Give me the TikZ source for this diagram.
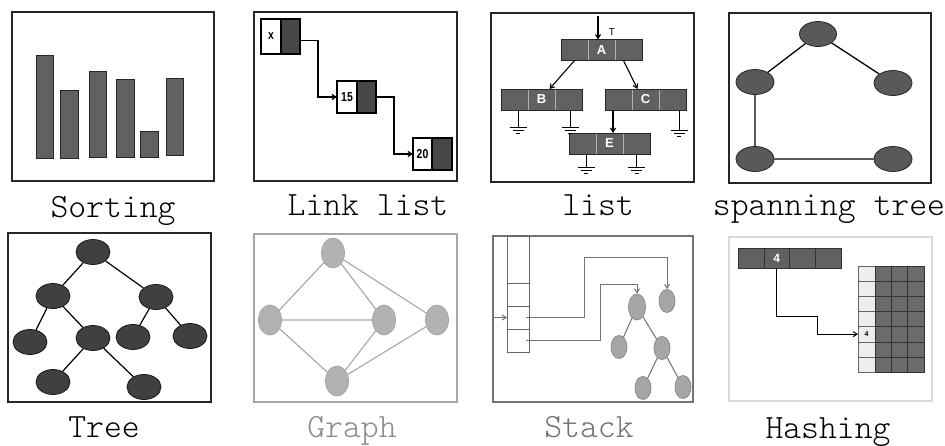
\documentclass[tikz,border=0pt]{standalone}
\usepackage{fontspec}
\setsansfont{Liberation Sans}
\newfontfamily\capfont{lmmonolt10-regular.otf}
\newfontfamily\condfont[FakeStretch=0.8]{Liberation Sans}
\usetikzlibrary{shapes.geometric,arrows.meta}
\begin{document}
\begin{tikzpicture}[x=1pt,y=-1pt,
  frame/.style={draw=black!85, line width=1.1pt},
  captext/.style={font=\fontsize{34}{40}\selectfont\capfont, anchor=base, inner sep=0pt},
  bar/.style={draw=black!85, fill=black!62, line width=0.9pt, anchor=south west, inner sep=0pt, outer sep=0pt},
  arr/.style={-{Straight Barb[length=4pt,width=5pt]}},
  lwhite/.style={draw=black, fill=white, line width=1.2pt, inner sep=0pt, outer sep=0pt, font=\condfont\bfseries\fontsize{13}{13}\selectfont},
  ldark/.style={draw=black, fill=black!72, line width=1.2pt, inner sep=0pt, outer sep=0pt},
  lcell/.style={draw=black!30, fill=black!62, minimum width=27pt, minimum height=21pt, inner sep=0pt, outer sep=0pt, text=white, font=\sffamily\bfseries\fontsize{13}{13}\selectfont},
  dell/.style={ellipse, draw=black!85, fill=black!65, line width=0.8pt, inner sep=0pt},
  tell/.style={ellipse, draw=black!90, fill=black!75, line width=0.8pt, inner sep=0pt, minimum width=34pt, minimum height=25pt},
  gell/.style={ellipse, draw=black!35, fill=black!30, line width=0.8pt, inner sep=0pt, minimum width=23pt, minimum height=30pt},
  sell/.style={ellipse, draw=black!45, fill=black!35, line width=0.8pt, inner sep=0pt, minimum width=16pt, minimum height=23pt},
  scell/.style={draw=black!60, line width=0.8pt, minimum width=22pt, minimum height=23pt, inner sep=0pt, outer sep=0pt},
  hcell/.style={draw=black!80, fill=black!62, minimum width=25.75pt, minimum height=20pt, inner sep=0pt, outer sep=0pt, text=white, font=\sffamily\bfseries\fontsize{12}{12}\selectfont},
  hcol/.style={draw=black!60, fill=black!7, minimum width=17pt, minimum height=15.14pt, inner sep=0pt, outer sep=0pt},
  hdark/.style={draw=black!80, fill=black!58, minimum width=16.33pt, minimum height=15.14pt, inner sep=0pt, outer sep=0pt},
  gnd/.pic={\draw[line width=0.8pt] (-8.5,0)--(8.5,0) (-5.5,3)--(5.5,3) (-2,6)--(2,6);}
]
\useasboundingbox (0,0) rectangle (945,445);
\fill[white] (0,0) rectangle (945,445);

% ---------- Sorting ----------
\draw[frame] (12,12) rectangle (214,181);
\node[bar, minimum width=17pt, minimum height=103pt] (b1) at (36,158) {};
\node[bar, minimum width=18pt, minimum height=68pt] (b2) at (60,158) {};
\node[bar, minimum width=17pt, minimum height=86pt] (b3) at (89,157) {};
\node[bar, minimum width=18pt, minimum height=78pt] (b4) at (116,157) {};
\node[bar, minimum width=18pt, minimum height=26pt] (b5) at (140,157) {};
\node[bar, minimum width=17pt, minimum height=77pt] (b6) at (166,155) {};
\node[captext] (c1) at (113,217) {Sorting};

% ---------- Link list ----------
\draw[frame] (254,12) rectangle (457,181);
\node[lwhite, minimum width=20pt, minimum height=35pt] (n1) at (271,36.5) {x};
\node[ldark, minimum width=19pt, minimum height=35pt, anchor=west] (n1d) at (n1.east) {};
\node[lwhite, minimum width=20pt, minimum height=32pt] (n2) at (347,97) {15};
\node[ldark, minimum width=19pt, minimum height=32pt, anchor=west] (n2d) at (n2.east) {};
\node[lwhite, minimum width=19pt, minimum height=32pt] (n3) at (422.5,154) {20};
\node[ldark, minimum width=20pt, minimum height=32pt, anchor=west] (n3d) at (n3.east) {};
\coordinate (k1) at (318,0);
\coordinate (k2) at (394,0);
\draw[line width=1.2pt, arr] ([yshift=-4pt]n1d.east) -| (k1 |- n2.west) -- (n2.west);
\draw[line width=1.2pt, arr] (n2d.east) -| (k2 |- n3.west) -- (n3.west);
\node[captext] (c2) at (368,215) {Link list};

% ---------- list ----------
\draw[frame] (491,13) rectangle (694,182);
\node[lcell] (A1) at (574.5,50) {};
\node[lcell] (A2) at (601.5,50) {A};
\node[lcell] (A3) at (628.5,50) {};
\draw[draw=black!85, line width=0.8pt] (A1.north west) rectangle (A3.south east);
\node[lcell] (B1) at (514.5,99.5) {};
\node[lcell] (B2) at (541.5,99.5) {B};
\node[lcell] (B3) at (568.5,99.5) {};
\draw[draw=black!85, line width=0.8pt] (B1.north west) rectangle (B3.south east);
\node[lcell] (C1) at (618.5,99.5) {};
\node[lcell] (C2) at (645.5,99.5) {C};
\node[lcell] (C3) at (672.5,99.5) {};
\draw[draw=black!85, line width=0.8pt] (C1.north west) rectangle (C3.south east);
\node[lcell] (E1) at (582.5,143.5) {};
\node[lcell] (E2) at (609.5,143.5) {E};
\node[lcell] (E3) at (636.5,143.5) {};
\draw[draw=black!85, line width=0.8pt] (E1.north west) rectangle (E3.south east);
\coordinate (Atop) at (598,16);
\draw[line width=1.1pt, arr] (Atop) -- (Atop |- A2.north);
\node[font=\sffamily\fontsize{10}{10}\selectfont, inner sep=0pt] (T) at (612,32) {T};
\draw[line width=1.1pt, arr] (A1.south) -- ([xshift=8pt]B2.north);
\draw[line width=1.1pt, arr] ([xshift=-5pt]A3.south) -- ([xshift=-8pt]C2.north);
\draw[line width=1.1pt, arr] ([xshift=-5.5pt]C1.south) -- ([xshift=-5.5pt]C1.south |- E2.north);
\draw[line width=0.8pt] ([xshift=3.5pt]B1.south) -- ++(0,17) pic {gnd};
\draw[line width=0.8pt] ([xshift=1.5pt]B3.south) -- ++(0,17) pic {gnd};
\draw[line width=0.8pt] ([xshift=6.5pt]C3.south) -- ++(0,20) pic {gnd};
\draw[line width=0.8pt] ([xshift=3.5pt]E1.south) -- ++(0,13) pic {gnd};
\draw[line width=0.8pt] (E3.south) -- ++(0,13) pic {gnd};
\node[captext] (c3) at (598,215) {list};

% ---------- spanning tree ----------
\draw[frame] (729,13) rectangle (931,183);
\node[dell, minimum width=37pt, minimum height=25pt] (s1) at (818,34) {};
\node[dell, minimum width=38pt, minimum height=25pt] (s2) at (755,82) {};
\node[dell, minimum width=38pt, minimum height=25pt] (s3) at (893,83) {};
\node[dell, minimum width=38pt, minimum height=25pt] (s4) at (755,159) {};
\node[dell, minimum width=38pt, minimum height=25pt] (s5) at (893,159) {};
\draw[line width=1.3pt] (s1) -- (s2) (s1) -- (s3) (s2) -- (s4) (s4) -- (s5);
\node[captext] (c4) at (829,215) {spanning tree};

% ---------- Tree ----------
\draw[frame] (8,233) rectangle (211,402);
\node[tell] (t0) at (93,252) {};
\node[tell] (t1) at (53,296) {};
\node[tell] (t2) at (156,297) {};
\node[tell] (t3) at (30,342) {};
\node[tell] (t4) at (93,338) {};
\node[tell] (t5) at (133,337) {};
\node[tell] (t6) at (190,336) {};
\node[tell] (t7) at (53,382) {};
\node[tell] (t8) at (144,387) {};
\draw[line width=1.2pt] (t0) -- (t1) (t0) -- (t2) (t1) -- (t3) (t1) -- (t4)
  (t2) -- (t5) (t2) -- (t6) (t4) -- (t7) (t4) -- (t8);
\node[captext] (c5) at (104,437) {Tree};

% ---------- Graph ----------
\draw[draw=black!35, line width=1.1pt] (254,234) rectangle (457,402);
\node[gell] (g1) at (333,253) {};
\node[gell] (g2) at (270,320) {};
\node[gell] (g3) at (384,320) {};
\node[gell] (g4) at (437,320) {};
\node[gell] (g5) at (337,381) {};
\draw[draw=black!35, line width=1.1pt] (g1) -- (g2) (g1) -- (g3) (g1) -- (g4) (g2) -- (g3)
  (g2) -- (g5) (g3) -- (g5) (g4) -- (g5);
\node[captext, text=black!45] (c6) at (352,437) {Graph};

% ---------- Stack ----------
\draw[draw=black!55, line width=1.1pt] (493,236) rectangle (693,402);
\node[scell, minimum height=47pt] (S0) at (518,259.5) {};
\node[scell] (S1) at (518,294.5) {};
\node[scell] (S2) at (518,317.5) {};
\node[scell] (S3) at (518,340.5) {};
\node[sell, minimum width=17pt, minimum height=26pt] (r0) at (637,307) {};
\node[sell] (r1) at (667,301) {};
\node[sell] (r2) at (619,347) {};
\node[sell] (r3) at (662,348) {};
\node[sell] (r4) at (643,388) {};
\node[sell] (r5) at (683,387) {};
\draw[draw=black!55, line width=1pt] (r0) -- (r2) (r0) -- (r3) (r3) -- (r4) (r3) -- (r5);
\coordinate (sin) at (493,317.5);
\draw[draw=black!55, line width=1pt, arr] (sin) -- (S2.west);
\coordinate (p1) at (584,257);
\coordinate (p2) at (600,284);
\draw[draw=black!55, line width=1pt, arr] ([xshift=-3pt]S2.east) -| (p1) -| (r1.north);
\draw[draw=black!55, line width=1pt, arr] ([xshift=-3pt]S3.east) -| (p2) -| (r0.north);
\node[captext, text=black!55] (c7) at (589,437) {Stack};

% ---------- Hashing ----------
\draw[draw=black!15, line width=1.1pt] (729,237) rectangle (932,401);
\node[hcell] (H1) at (750.9,258) {};
\node[hcell] (H2) at (776.6,258) {4};
\node[hcell] (H3) at (802.4,258) {};
\node[hcell] (H4) at (828.1,258) {};
\foreach \r in {1,...,7} {
  \node[hcol] (T\r) at (866.5, {266+(\r-0.5)*15.14}) {};
  \foreach \c in {1,2,3} {
    \node[hdark] (D\r\c) at ({875+(\c-0.5)*16.33}, {266+(\r-0.5)*15.14}) {};
  }
}
\node[font=\sffamily\bfseries\fontsize{7}{7}\selectfont, inner sep=0pt] (t5lab) at (T5) {4};
\coordinate (h1) at (817,316);
\draw[line width=1pt, arr] (H2.south) |- (h1) |- (T5.west);
\node[captext] (c8) at (828,438) {Hashing};
\end{tikzpicture}
\end{document}
